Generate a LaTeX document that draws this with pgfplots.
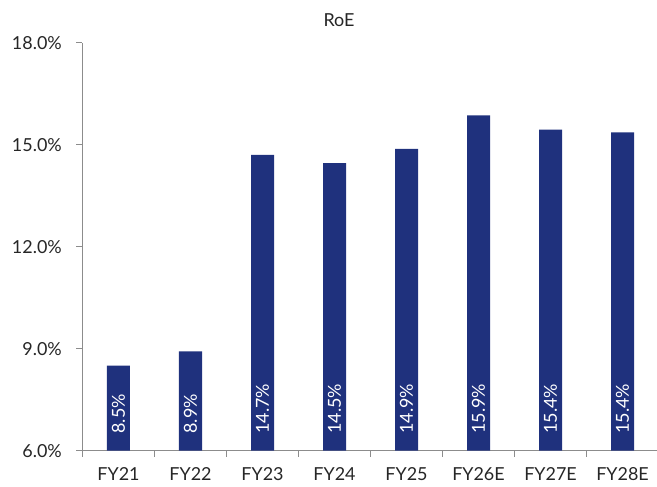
\documentclass[border=0pt]{standalone}
\usepackage{pgfplots}
\pgfplotsset{compat=1.18}
\usepackage{pgfplotstable}
\usepackage{fontspec}
\setmainfont{Lato}

\definecolor{barblue}{HTML}{1F317D}
\definecolor{axisgray}{HTML}{8C8C8C}
\definecolor{txt}{HTML}{262626}

% Return on equity by fiscal year (%), E = estimate
\pgfplotstableread{
x cat   v
0 FY21  8.50
1 FY22  8.92
2 FY23  14.70
3 FY24  14.46
4 FY25  14.88
5 FY26E 15.86
6 FY27E 15.44
7 FY28E 15.36
}\roe

\newcommand{\lbl}{\fontsize{18}{21.6}\selectfont}

\begin{document}
\begin{tikzpicture}[x=1bp,y=1bp]
\path[use as bounding box] (-82.5,-36.3) rectangle (574.5,450.7);
\begin{axis}[
  at={(0,0)}, anchor=south west,
  scale only axis, width=576bp, height=408bp,
  xmin=-0.5, xmax=7.5, ymin=6, ymax=18,
  axis x line*=bottom, axis y line*=left,
  axis line style={axisgray, line width=0.9bp},
  every tick/.style={axisgray, line width=0.9bp},
  tick align=outside, major tick length=6bp,
  xtick={-0.5,0.5,...,7.5}, xticklabels={},
  extra x ticks={0,1,...,7},
  extra x tick labels={FY21,FY22,FY23,FY24,FY25,FY26E,FY27E,FY28E},
  extra x tick style={major tick length=0pt,
    xticklabel style={anchor=north, inner sep=0pt, yshift=-17bp}},
  ytick={6,9,12,15,18},
  yticklabel={\pgfmathprintnumber[fixed,fixed zerofill,precision=1]{\tick}\%},
  /pgf/number format/assume math mode=true,
  yticklabel style={anchor=east, inner sep=0pt, xshift=-14.5bp},
  tick label style={font=\lbl, text=txt},
  clip=false,
]
\addplot[ybar, bar width=23bp, fill=barblue, draw=none]
  table[x=x, y=v] {\roe};
\addplot[draw=none, mark=none, point meta=explicit,
  nodes near coords={\pgfmathprintnumber[fixed,fixed zerofill,precision=1]{\pgfplotspointmeta}\%},
  every node near coord/.style={rotate=90, anchor=west, inner sep=0pt,
    text=white, font=\lbl}]
  table[x=x, y expr=6.5, meta=v] {\roe};
\end{axis}
\node[anchor=base, text=txt, font=\lbl, inner sep=0pt] at (256.5,423.7) {RoE};
\end{tikzpicture}
\end{document}
